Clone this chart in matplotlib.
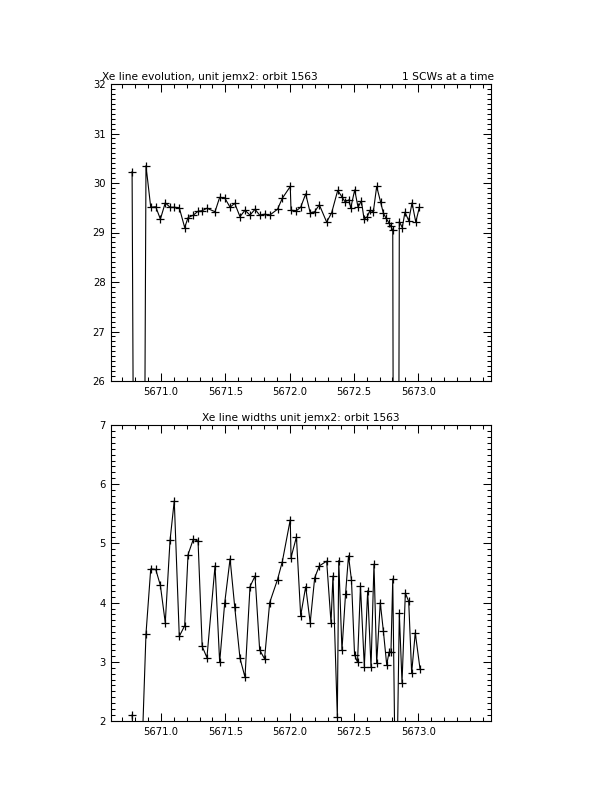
import matplotlib
matplotlib.use("Agg")
import matplotlib.pyplot as plt
from matplotlib.ticker import MultipleLocator, FixedLocator, FormatStrFormatter

# ---- data ----
time_pos = [5670.775, 5670.829, 5670.883, 5670.920, 5670.959, 5670.995, 5671.033,
            5671.070, 5671.103, 5671.142, 5671.184, 5671.210, 5671.251, 5671.288,
            5671.320, 5671.357, 5671.420, 5671.456, 5671.495, 5671.537, 5671.573,
            5671.614, 5671.653, 5671.692, 5671.731, 5671.767, 5671.805, 5671.845,
            5671.906, 5671.943, 5672.005, 5672.011, 5672.053, 5672.086, 5672.125,
            5672.160, 5672.195, 5672.231, 5672.288, 5672.327, 5672.374, 5672.407,
            5672.431, 5672.462, 5672.475, 5672.506, 5672.532, 5672.558, 5672.579,
            5672.604, 5672.625, 5672.651, 5672.677, 5672.708, 5672.729, 5672.750,
            5672.771, 5672.786, 5672.802, 5672.827, 5672.853, 5672.876, 5672.897,
            5672.926, 5672.952, 5672.981, 5673.009]
line_pos = [30.23, 0.0, 30.35, 29.51, 29.52, 29.27, 29.60,
            29.51, 29.51, 29.50, 29.10, 29.30, 29.35, 29.43,
            29.44, 29.49, 29.42, 29.71, 29.70, 29.51, 29.59,
            29.32, 29.45, 29.35, 29.47, 29.35, 29.37, 29.35,
            29.47, 29.69, 29.93, 29.45, 29.44, 29.51, 29.78,
            29.40, 29.42, 29.56, 29.21, 29.40, 29.85, 29.72,
            29.62, 29.66, 29.49, 29.86, 29.51, 29.64, 29.27,
            29.32, 29.45, 29.42, 29.93, 29.61, 29.39, 29.29,
            29.20, 29.13, 29.05, 0.0, 29.22, 29.10, 29.41,
            29.24, 29.60, 29.21, 29.51]

time_width = [5670.775, 5670.829, 5670.883, 5670.920, 5670.959, 5670.995, 5671.033,
              5671.070, 5671.103, 5671.142, 5671.184, 5671.210, 5671.251, 5671.288,
              5671.320, 5671.357, 5671.420, 5671.456, 5671.495, 5671.537, 5671.573,
              5671.614, 5671.653, 5671.692, 5671.731, 5671.767, 5671.805, 5671.845,
              5671.906, 5671.943, 5672.005, 5672.011, 5672.053, 5672.086, 5672.125,
              5672.160, 5672.195, 5672.231, 5672.288, 5672.322, 5672.337, 5672.371,
              5672.382, 5672.407, 5672.435, 5672.458, 5672.481, 5672.505, 5672.528,
              5672.551, 5672.581, 5672.607, 5672.633, 5672.656, 5672.677, 5672.705,
              5672.729, 5672.755, 5672.773, 5672.788, 5672.802, 5672.827, 5672.853,
              5672.874, 5672.900, 5672.926, 5672.949, 5672.977, 5673.014]
line_width = [2.10, 0.0, 3.47, 4.57, 4.56, 4.29, 3.66,
              5.05, 5.72, 3.43, 3.61, 4.81, 5.07, 5.04,
              3.26, 3.07, 4.62, 2.99, 3.99, 4.74, 3.93,
              3.06, 2.74, 4.27, 4.45, 3.20, 3.05, 4.00,
              4.39, 4.69, 5.40, 4.76, 5.11, 3.78, 4.27,
              3.66, 4.42, 4.62, 4.70, 3.66, 4.45, 2.07,
              4.71, 3.20, 4.15, 4.79, 4.38, 3.12, 2.99,
              4.28, 2.92, 4.20, 2.91, 4.65, 2.98, 4.00,
              3.52, 2.95, 3.16, 3.16, 4.40, 0.0, 3.82,
              2.65, 4.16, 4.02, 2.81, 3.49, 2.88]

x_major_ticks = [5671.0, 5671.5, 5672.0, 5672.5, 5673.0]

title_top_left = "Xe line evolution, unit jemx2: orbit 1563"
title_top_right = "1 SCWs at a time"
title_bottom = "Xe line widths unit jemx2: orbit 1563"

xlim = (5670.611, 5673.566)
ylim_top = (26, 32)
ylim_bottom = (2, 7)

FS = 7.2
W, H = 612, 792
fig = plt.figure(figsize=(W / 100, H / 100), dpi=100)
fig.patch.set_facecolor("white")


def style(ax):
    ax.set_xlim(*xlim)
    ax.xaxis.set_major_locator(FixedLocator(x_major_ticks))
    ax.xaxis.set_minor_locator(MultipleLocator(0.1))
    ax.yaxis.set_major_locator(MultipleLocator(1))
    ax.yaxis.set_minor_locator(MultipleLocator(0.1))
    ax.xaxis.set_major_formatter(FormatStrFormatter("%.1f"))
    ax.yaxis.set_major_formatter(FormatStrFormatter("%d"))
    ax.tick_params(which="both", direction="in", top=True, right=True,
                   width=0.75, colors="black", labelsize=FS)
    ax.tick_params(which="major", length=5.8)
    ax.tick_params(which="minor", length=2.9)
    ax.tick_params(axis="x", pad=4)
    ax.tick_params(axis="y", pad=4)
    for s in ax.spines.values():
        s.set_linewidth(0.8)
        s.set_color("black")


l = 111 / W
w = 380 / W
ax1 = fig.add_axes([l, 1 - 381 / H, w, 297 / H])
ax1.plot(time_pos, line_pos, color="black", lw=0.8, marker="+", ms=6, mew=0.9)
ax1.set_ylim(*ylim_top)
style(ax1)
ax1.text(-9 / 380, 1.008, title_top_left, transform=ax1.transAxes, ha="left",
         va="bottom", fontsize=FS + 0.5)
ax1.text(1.008, 1.008, title_top_right, transform=ax1.transAxes, ha="right",
         va="bottom", fontsize=FS + 0.5)

ax2 = fig.add_axes([l, 1 - 721 / H, w, 296 / H])
ax2.plot(time_width, line_width, color="black", lw=0.8, marker="+", ms=6, mew=0.9)
ax2.set_ylim(*ylim_bottom)
style(ax2)
ax2.set_title(title_bottom, fontsize=FS + 0.5, pad=3)

fig.savefig("out.png", dpi=100, facecolor="white")
